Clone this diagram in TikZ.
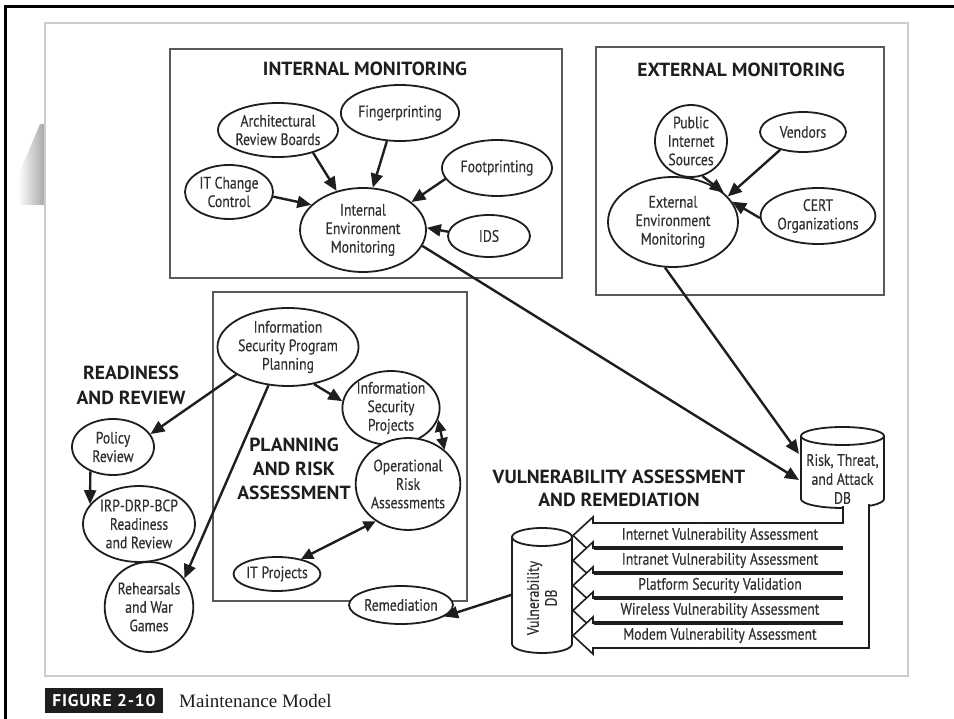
\documentclass[tikz,border=0pt]{standalone}
\usepackage{fontspec}
\setmainfont[FakeStretch=0.83,FakeBold=0.35]{PT Sans}
\newfontfamily\headfont[FakeStretch=1.03]{PT Sans}
\newfontfamily\capserif{Liberation Serif}
\usetikzlibrary{arrows.meta,shapes.geometric,calc}
\definecolor{ink}{HTML}{1E1E1E}
\definecolor{txt}{HTML}{303030}
\definecolor{panelline}{HTML}{CDCDCD}
\definecolor{boxline}{HTML}{5A5A5A}

\begin{document}
\begin{tikzpicture}[x=1pt,y=-1pt,
  oval/.style={ellipse, draw=ink, line width=1.8pt, fill=white, inner sep=0pt,
    align=center, text=txt, font=\fontsize{16.5}{18.5}\selectfont},
  region/.style={draw=boxline, line width=1.1pt},
  heading/.style={align=center, text=ink, font=\headfont\bfseries\fontsize{19}{24}\selectfont},
  arr/.style={draw=ink, line width=2.4pt, -{Triangle[length=14pt,width=12pt]}},
  darr/.style={draw=ink, line width=2.4pt,
    {Triangle[length=12pt,width=11pt]}-{Triangle[length=12pt,width=11pt]}},
  bandtext/.style={text=txt, font=\fontsize{16.5}{18}\selectfont},
  dbline/.style={draw=ink, line width=1.8pt, fill=white},
  dbtext/.style={align=center, text=txt, font=\fontsize{16.5}{19}\selectfont},
]
\useasboundingbox (0,0) rectangle (954,719);
\fill[white] (0,0) rectangle (954,719);

% page edge and shadow
\shade[left color=white, right color=black!35] (18,176) -- (40,124) -- (45,124) -- (45,205) -- (18,205) -- cycle;
\draw[black, line width=3pt] (5,719) -- (5,7) -- (954,7);

% figure panel
\draw[panelline, line width=2pt, fill=white] (45,23) rectangle (908,676);

% region boxes
\draw[region] (170,49) rectangle (562,278);
\draw[region] (596,47) rectangle (884,295);
\draw[region] (213,292) rectangle (467,601);

% ---------------- internal monitoring
\node[heading] (hint) at (365,69) {INTERNAL MONITORING};
\node[oval, minimum width=110, minimum height=54] (arb) at (278,130) {Architectural\\Review Boards};
\node[oval, minimum width=110, minimum height=56] (fing) at (400,113) {Fingerprinting};
\node[oval, minimum width=110, minimum height=56] (foot) at (497,168) {Footprinting};
\node[oval, minimum width=88, minimum height=54] (itcc) at (229,192) {IT Change\\Control};
\node[oval, minimum width=126, minimum height=84] (iem) at (363,230) {Internal\\Environment\\Monitoring};
\node[oval, minimum width=82, minimum height=42] (ids) at (489,236) {IDS};

% ---------------- external monitoring
\node[heading] (hext) at (741,70) {EXTERNAL MONITORING};
\node[oval, minimum width=72, minimum height=72] (pis) at (691,141) {Public\\Internet\\Sources};
\node[oval, minimum width=86, minimum height=40] (vend) at (803,132) {Vendors};
\node[oval, minimum width=108, minimum height=56] (cert) at (818,216) {CERT\\Organizations};
\node[oval, minimum width=130, minimum height=90] (eem) at (673,222) {External\\Environment\\Monitoring};

% ---------------- planning and risk assessment
\node[heading] (hplan) at (294,469) {PLANNING\\AND RISK\\ASSESSMENT};
\node[oval, minimum width=118, minimum height=78] (ispp) at (288,347) {Information\\Security Program\\Planning};
\node[oval, minimum width=88, minimum height=74] (isp) at (391,408) {Information\\Security\\Projects};
\node[oval, minimum width=94, minimum height=92] (ora) at (408,484) {Operational\\Risk\\Assessments};
\node[oval, minimum width=76, minimum height=34] (itp) at (277,574) {IT Projects};

% ---------------- readiness and review
\node[heading, font=\headfont\bfseries\fontsize{19}{25}\selectfont] (hread) at (131,385.5) {READINESS\\AND REVIEW};
\node[oval, minimum width=82, minimum height=56] (pol) at (113,447) {Policy\\Review};
\node[oval, minimum width=112, minimum height=76] (irp) at (139,524) {IRP-DRP-BCP\\Readiness\\and Review};
\node[oval, minimum width=78, minimum height=90] (reh) at (149,607) {Rehearsals\\and War\\Games};

% ---------------- vulnerability assessment and remediation
\node[heading, font=\headfont\bfseries\fontsize{19}{23}\selectfont] (hvul) at (619,488.5) {VULNERABILITY ASSESSMENT\\AND REMEDIATION};

% risk, threat and attack database
\draw[dbline] (801,436) -- (801,499) arc[start angle=180, end angle=360, x radius=41.5pt, y radius=9pt]
  -- (884,436) arc[start angle=0, end angle=180, x radius=41.5pt, y radius=9pt] -- cycle;
\draw[ink, line width=1.8pt] (801,436) arc[start angle=180, end angle=360, x radius=41.5pt, y radius=9pt];
\node[dbtext] (rta) at (842.5,479) {Risk, Threat,\\and Attack\\DB};
\coordinate (rtain1) at (799,454);
\coordinate (rtain2) at (799,480);

% feed pipe and assessment bands
\fill[white] (844,504.5) rectangle (868,530);
\draw[ink, line width=1.8pt] (843,506) -- (843,523) -- (593,523);
\draw[ink, line width=1.8pt] (869,504) -- (869,648) -- (593,648);
\foreach \i in {0,...,4} {
  \pgfmathsetmacro\bt{523+25*\i}
  \pgfmathsetmacro\bb{\bt+25}
  \pgfmathsetmacro\bm{\bt+12.5}
  \draw[ink, line width=1.6pt, fill=white] (700,\bt) -- (593,\bt) -- (593,\bt-6) -- (573,\bm)
    -- (593,\bb+6) -- (593,\bb) -- (700,\bb);
}
\foreach \i in {1,...,4} {
  \draw[ink, line width=3.6pt] (594,523+25*\i) -- (843,523+25*\i);
}
\node[bandtext] (va1) at (720,535.5) {Internet Vulnerability Assessment};
\node[bandtext] (va2) at (720,560.5) {Intranet Vulnerability Assessment};
\node[bandtext] (va3) at (720,585.5) {Platform Security Validation};
\node[bandtext] (va4) at (720,610.5) {Wireless Vulnerability Assessment};
\node[bandtext] (va5) at (720,635.5) {Modem Vulnerability Assessment};

% vulnerability database
\draw[dbline] (512,537) -- (512,644) arc[start angle=180, end angle=360, x radius=30pt, y radius=9pt]
  -- (572,537) arc[start angle=0, end angle=180, x radius=30pt, y radius=9pt] -- cycle;
\draw[ink, line width=1.8pt] (512,537) arc[start angle=180, end angle=360, x radius=30pt, y radius=9pt];
\node[inner sep=0pt, minimum width=60, minimum height=125] (vdb) at (542,590.5) {};
\node[dbtext, rotate=90, font=\fontsize{16.5}{18}\selectfont] (vdblabel) at (542,598) {Vulnerability\\DB};

\node[oval, minimum width=96, minimum height=38] (rem) at (401,605) {Remediation};

% ---------------- connectors
\draw[arr] (arb.-33) -- (iem.124);
\draw[arr] (fing.-115) -- (iem.77);
\draw[arr] (foot.192) -- (iem.30);
\draw[arr] (itcc.-6) -- (iem.154);
\draw[arr] (ids.174) -- (iem.2);
\draw[arr] (iem.-15) -- (rtain2);

\draw[arr] (pis.-72) -- (eem.30);
\draw[arr] (vend.218) -- (eem.25);
\draw[arr] (cert.182) -- (eem.19);
\draw[arr] (eem.260) -- (rtain1);

\draw[arr] (ispp.-55) -- (isp.172);
\draw[darr] (isp.-14) -- (ora.43);
\draw[darr] (ora.229) -- (itp.32);
\draw[arr] (ispp.208) -- (pol.19);
\draw[arr] (ispp.243) -- (reh.39);
\draw[arr] (pol.227) -- (irp.158);

\draw[arr] (vdb.188) -- (rem.-15);

% ---------------- caption
\node[fill=ink, text=white, inner sep=0pt, minimum width=118, minimum height=25,
  font=\headfont\bfseries\fontsize{17}{17}\selectfont\addfontfeature{LetterSpace=5}] (figno) at (104,700.5) {FIGURE 2-10};
\node[anchor=west, inner sep=0pt, text=ink, font=\capserif\fontsize{19}{19}\selectfont] (figtitle) at (179,701) {Maintenance Model};
\end{tikzpicture}
\end{document}
